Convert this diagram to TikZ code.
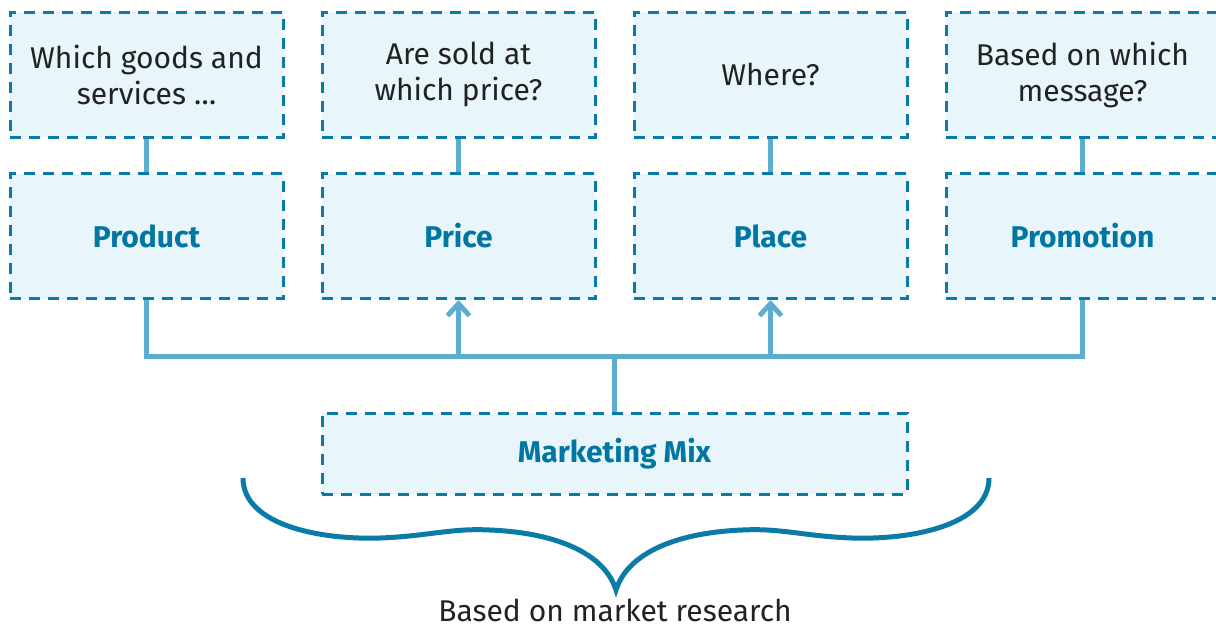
\documentclass[tikz,border=0pt]{standalone}
\usepackage{fontspec}
\setmainfont{Fira Sans}
\usetikzlibrary{arrows.meta}
\definecolor{boxline}{HTML}{0A7BA6}
\definecolor{boxfill}{HTML}{E8F5FB}
\definecolor{wireblue}{HTML}{5CAED0}
\definecolor{headtext}{HTML}{0077A3}
\definecolor{bodytext}{HTML}{222222}
\begin{document}
\begin{tikzpicture}[x=0.5pt,y=-0.5pt,
  askbox/.style={draw=boxline,fill=boxfill,line width=1.5pt,dash pattern=on 5.5pt off 4pt,
    minimum width=136.5pt,minimum height=62.5pt,inner sep=0pt,align=center,
    text=bodytext,font=\fontsize{15}{18}\selectfont},
  pbox/.style={askbox,text=headtext,font=\fontsize{15}{18}\selectfont\bfseries},
  wire/.style={draw=wireblue,line width=2.5pt},
  up/.style={wire,-{Straight Barb[length=6pt,width=11pt]}}]
\useasboundingbox (0,0) rectangle (1216,628);
\node[askbox] (which) at (146.5,74.5) {Which goods and\\services \dots};
\node[askbox] (sold) at (458.5,74.5) {Are sold at\\which price?};
\node[askbox] (where) at (770.5,74.5) {Where?};
\node[askbox] (message) at (1082.5,74.5) {Based on which\\message?};
\node[pbox] (product) at (146.5,236) {Product};
\node[pbox] (price) at (458.5,236) {Price};
\node[pbox] (place) at (770.5,236) {Place};
\node[pbox] (promotion) at (1082.5,236) {Promotion};
\node[pbox,minimum width=292.5pt,minimum height=40.5pt] (mix) at (614.5,453.5) {Marketing Mix};
\coordinate (bus) at (614.5,356);
\draw[wire] (which) -- (product);
\draw[wire] (sold) -- (price);
\draw[wire] (where) -- (place);
\draw[wire] (message) -- (promotion);
\draw[wire] (product) -- (product |- bus) -- (promotion |- bus) -- (promotion);
\draw[wire] (mix) -- (mix |- bus);
\draw[up] (price |- bus) -- (price);
\draw[up] (place |- bus) -- (place);
% brace under the mix
\draw[boxline,line width=2.5pt] (243,478) .. controls (243,525) and (320,540) .. (380,538)
  .. controls (430,536) and (450,528) .. (490,530)
  .. controls (560,533) and (605,555) .. (616,590)
  .. controls (627,555) and (672,533) .. (742,530)
  .. controls (782,528) and (802,536) .. (852,538)
  .. controls (912,540) and (989,525) .. (989,478);
\node[anchor=base,inner sep=0pt,text=bodytext,font=\fontsize{15}{18}\selectfont] (research) at (615,621) {Based on market research};
\end{tikzpicture}
\end{document}
